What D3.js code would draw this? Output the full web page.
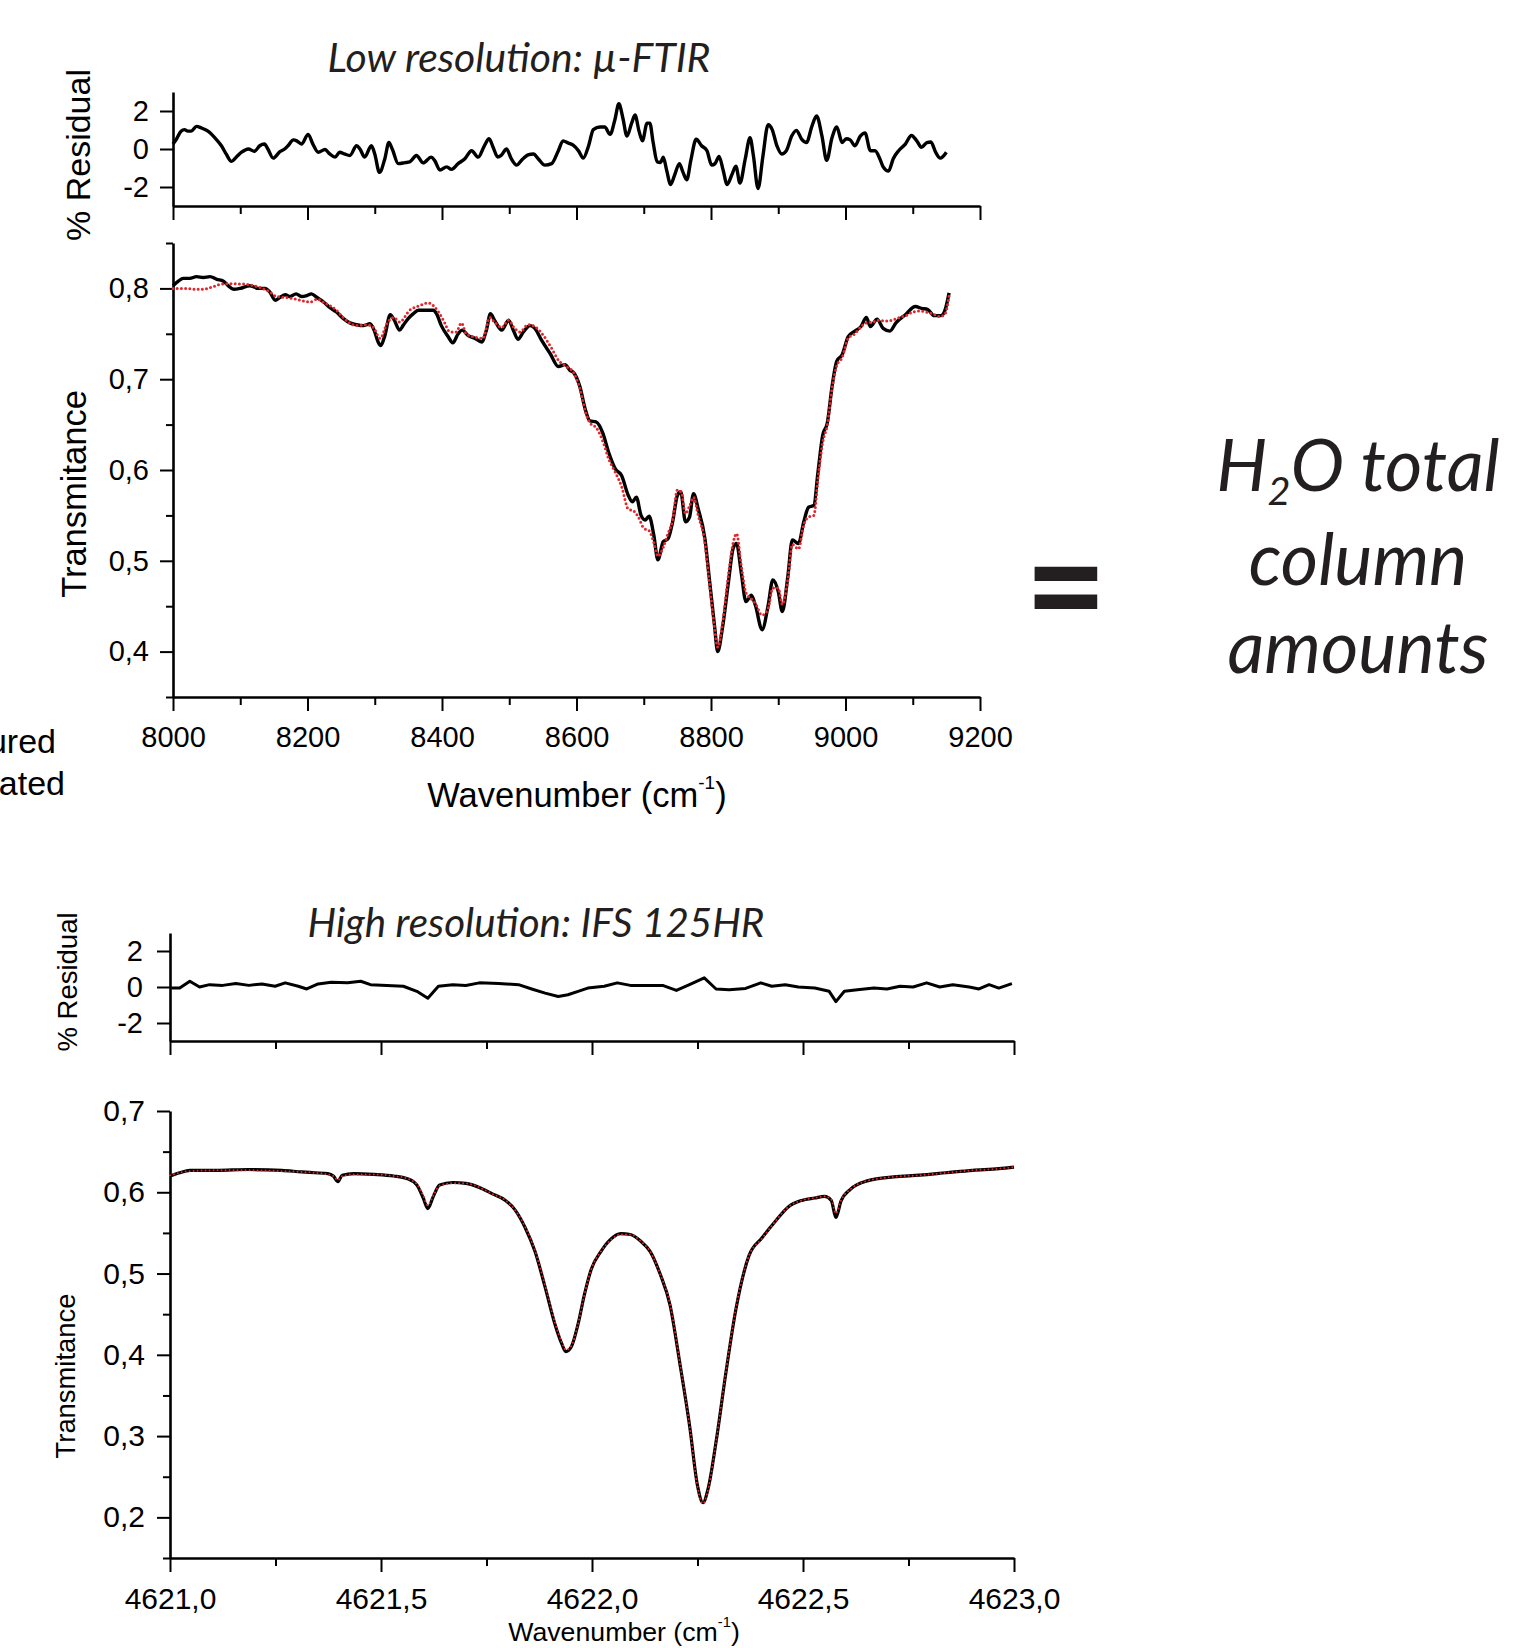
<!DOCTYPE html>
<html><head><meta charset="utf-8">
<script src="https://cdn.jsdelivr.net/npm/d3@7"></script>
<style>body{margin:0;background:#fff}svg{display:block}</style>
</head><body>
<svg id="c" width="1518" height="1648"></svg>
<script>
// ---------------- DATA ----------------
const titleLow = "Low resolution: µ-FTIR";
const titleHigh = "High resolution: IFS 125HR";
const legendLabels = ["Measured", "Calculated"];
const resultLines = ["total", "column", "amounts"];

const tickLowX = [8000, 8200, 8400, 8600, 8800, 9000, 9200];
const minorLowX = [8100, 8300, 8500, 8700, 8900, 9100];
const tickLowY = [0.4, 0.5, 0.6, 0.7, 0.8];
const minorLowY = [0.35, 0.45, 0.55, 0.65, 0.75, 0.85];
const tickRes = [-2, 0, 2];
const tickHighX = [4621.0, 4621.5, 4622.0, 4622.5, 4623.0];
const minorHighX = [4621.25, 4621.75, 4622.25, 4622.75];
const tickHighY = [0.2, 0.3, 0.4, 0.5, 0.6, 0.7];
const minorHighY = [0.15, 0.25, 0.35, 0.45, 0.55, 0.65];

// Low resolution residual (%): [wavenumber, value]
const residualLow = [[8000,0.26],[8005,0.51],[8012,0.94],[8017,1.02],[8022,0.94],[8027,0.94],[8035,1.19],[8042,1.11],[8052,0.94],[8062,0.60],
[8072,0.17],[8079,-0.26],[8087,-0.65],[8094,-0.43],[8102,-0.17],[8112,0.00],[8121,-0.12],[8129,0.17],[8136,0.26],[8141,0.00],
[8149,-0.48],[8159,-0.14],[8166,0.00],[8171,0.17],[8179,0.48],[8184,0.43],[8191,0.26],[8201,0.77],[8208,0.26],[8216,-0.17],
[8226,-0.03],[8233,-0.26],[8241,-0.43],[8248,-0.17],[8255,-0.26],[8263,-0.34],[8273,0.17],[8278,0.00],[8285,-0.43],[8295,0.17],
[8300,-0.26],[8307,-1.23],[8315,-0.51],[8321,0.34],[8326,0.00],[8335,-0.77],[8345,-0.72],[8352,-0.68],[8362,-0.34],[8372,-0.73],
[8384,-0.43],[8389,-0.60],[8397,-1.11],[8407,-0.94],[8414,-1.07],[8424,-0.77],[8434,-0.51],[8444,-0.09],[8454,-0.43],[8463,0.17],
[8470,0.54],[8476,0.09],[8483,-0.43],[8488,-0.34],[8496,0.00],[8503,-0.51],[8511,-0.85],[8518,-0.60],[8528,-0.31],[8536,-0.26],
[8543,-0.51],[8553,-0.85],[8563,-0.77],[8573,-0.09],[8580,0.43],[8588,0.31],[8595,0.20],[8603,-0.10],[8610,-0.48],[8618,0.17],
[8625,1.02],[8635,1.16],[8642,1.16],[8650,0.77],[8657,1.53],[8663,2.38],[8669,1.62],[8675,0.68],[8682,1.36],[8687,1.79],
[8693,0.94],[8698,0.43],[8705,1.36],[8709,1.36],[8714,0.34],[8720,-0.68],[8725,-0.71],[8729,-0.43],[8734,-1.11],[8740,-1.87],
[8746,-1.36],[8753,-0.77],[8758,-1.19],[8764,-1.62],[8770,-0.60],[8778,0.51],[8786,0.17],[8794,-0.09],[8801,-0.85],[8806,-0.77],
[8812,-0.39],[8818,-1.11],[8824,-1.87],[8831,-1.36],[8837,-0.90],[8843,-1.79],[8851,-0.51],[8858,0.60],[8863,-0.34],[8870,-2.08],
[8877,-0.43],[8885,1.28],[8891,1.02],[8898,0.17],[8905,-0.26],[8912,-0.09],[8920,0.68],[8927,0.98],[8935,0.51],[8942,0.34],
[8950,1.19],[8957,1.74],[8965,0.68],[8972,-0.60],[8980,0.60],[8987,1.16],[8995,0.34],[9001,0.54],[9007,0.48],[9014,0.17],
[9022,0.68],[9029,0.85],[9037,-0.09],[9044,-0.09],[9051,-0.51],[9056,-0.94],[9064,-1.16],[9071,-0.51],[9079,-0.09],[9089,0.26],
[9098,0.71],[9106,0.43],[9113,0.09],[9121,0.34],[9127,0.37],[9134,-0.17],[9141,-0.48],[9150,-0.17]];

// Low resolution transmittance, measured (black)
const measuredLow = [[8000,0.803],[8008,0.808],[8015,0.811],[8025,0.811],[8035,0.813],[8045,0.812],[8055,0.813],[8065,0.810],[8075,0.808],[8082,0.803],
[8090,0.799],[8100,0.800],[8114,0.803],[8127,0.800],[8137,0.800],[8144,0.796],[8152,0.787],[8159,0.790],[8167,0.793],[8174,0.791],
[8183,0.794],[8191,0.791],[8199,0.792],[8206,0.794],[8214,0.790],[8224,0.785],[8233,0.779],[8243,0.774],[8253,0.767],[8263,0.762],
[8273,0.760],[8283,0.759],[8293,0.761],[8299,0.754],[8305,0.741],[8309,0.737],[8315,0.748],[8323,0.771],[8329,0.765],[8337,0.754],
[8342,0.759],[8350,0.767],[8357,0.772],[8365,0.776],[8377,0.776],[8387,0.776],[8392,0.772],[8399,0.759],[8409,0.747],[8416,0.740],
[8424,0.750],[8430,0.754],[8439,0.748],[8449,0.745],[8459,0.741],[8466,0.754],[8472,0.772],[8478,0.765],[8489,0.754],[8499,0.765],
[8506,0.754],[8513,0.744],[8521,0.752],[8531,0.759],[8538,0.756],[8548,0.743],[8561,0.728],[8573,0.714],[8583,0.716],[8590,0.710],
[8596,0.707],[8605,0.692],[8613,0.667],[8620,0.654],[8629,0.653],[8639,0.641],[8648,0.619],[8658,0.601],[8667,0.594],[8677,0.572],
[8683,0.565],[8689,0.570],[8696,0.550],[8702,0.545],[8708,0.549],[8715,0.528],[8721,0.501],[8729,0.521],[8736,0.524],[8743,0.543],
[8750,0.572],[8755,0.576],[8762,0.543],[8768,0.548],[8774,0.574],[8781,0.557],[8791,0.524],[8797,0.484],[8805,0.430],[8810,0.400],
[8817,0.426],[8826,0.477],[8833,0.514],[8838,0.519],[8845,0.487],[8852,0.455],[8860,0.462],[8866,0.451],[8876,0.424],[8885,0.451],
[8892,0.479],[8900,0.466],[8906,0.444],[8914,0.481],[8921,0.523],[8930,0.519],[8938,0.543],[8945,0.559],[8953,0.561],[8959,0.597],
[8966,0.638],[8973,0.652],[8980,0.692],[8987,0.720],[8995,0.727],[9004,0.747],[9014,0.753],[9023,0.758],[9031,0.768],[9037,0.758],
[9047,0.766],[9056,0.756],[9066,0.753],[9075,0.762],[9089,0.771],[9104,0.780],[9113,0.778],[9122,0.777],[9132,0.770],[9142,0.770],
[9148,0.776],[9154,0.795]];

// Low resolution transmittance, calculated (red)
const calculatedLow = [[8000,0.800],[8020,0.800],[8035,0.799],[8045,0.799],[8060,0.802],[8075,0.805],[8095,0.805],[8114,0.804],[8129,0.801],[8144,0.796],
[8154,0.791],[8169,0.790],[8184,0.788],[8204,0.785],[8214,0.788],[8228,0.783],[8243,0.776],[8253,0.768],[8273,0.759],[8288,0.760],
[8298,0.757],[8308,0.745],[8318,0.761],[8328,0.768],[8337,0.763],[8352,0.776],[8367,0.781],[8380,0.784],[8392,0.777],[8402,0.765],
[8412,0.752],[8421,0.752],[8429,0.762],[8436,0.750],[8451,0.746],[8461,0.745],[8471,0.768],[8478,0.763],[8489,0.757],[8499,0.765],
[8508,0.756],[8516,0.752],[8528,0.760],[8538,0.758],[8551,0.748],[8563,0.734],[8573,0.721],[8585,0.714],[8595,0.708],[8605,0.690],
[8613,0.665],[8620,0.652],[8630,0.646],[8640,0.630],[8648,0.612],[8658,0.597],[8667,0.582],[8677,0.557],[8685,0.555],[8692,0.548],
[8700,0.536],[8708,0.533],[8715,0.520],[8721,0.505],[8729,0.515],[8736,0.530],[8743,0.545],[8750,0.578],[8756,0.575],[8762,0.552],
[8768,0.560],[8774,0.570],[8781,0.550],[8791,0.520],[8797,0.480],[8805,0.428],[8810,0.405],[8817,0.430],[8826,0.485],[8833,0.520],
[8838,0.530],[8845,0.495],[8852,0.465],[8860,0.458],[8866,0.453],[8876,0.440],[8885,0.448],[8892,0.470],[8900,0.470],[8906,0.452],
[8914,0.478],[8921,0.518],[8930,0.513],[8938,0.540],[8945,0.548],[8953,0.550],[8959,0.590],[8966,0.630],[8973,0.650],[8980,0.690],
[8987,0.715],[8995,0.724],[9004,0.745],[9014,0.750],[9023,0.758],[9031,0.762],[9040,0.763],[9050,0.765],[9060,0.764],[9070,0.765],
[9080,0.768],[9090,0.770],[9100,0.774],[9110,0.775],[9120,0.774],[9130,0.772],[9140,0.769],[9148,0.772],[9154,0.792]];

// High resolution residual (%)
const residualHigh = [[4621.003,-0.06],[4621.023,-0.06],[4621.047,0.32],[4621.070,0.00],[4621.094,0.13],[4621.125,0.09],[4621.156,0.19],[4621.187,0.09],
[4621.218,0.17],[4621.249,0.04],[4621.273,0.23],[4621.304,0.04],[4621.324,-0.11],[4621.351,0.17],[4621.382,0.26],[4621.421,0.23],
[4621.452,0.32],[4621.475,0.13],[4621.514,0.09],[4621.553,0.04],[4621.585,-0.24],[4621.611,-0.62],[4621.636,0.04],[4621.670,0.13],
[4621.701,0.08],[4621.733,0.23],[4621.779,0.19],[4621.826,0.13],[4621.857,-0.11],[4621.889,-0.34],[4621.920,-0.53],[4621.943,-0.43],
[4621.967,-0.24],[4621.990,-0.06],[4622.029,0.04],[4622.060,0.23],[4622.091,0.09],[4622.138,0.09],[4622.169,0.08],[4622.200,-0.19],
[4622.231,0.13],[4622.266,0.51],[4622.294,-0.11],[4622.325,-0.15],[4622.364,-0.08],[4622.400,0.23],[4622.426,0.04],[4622.458,0.13],
[4622.489,0.00],[4622.528,-0.06],[4622.562,-0.24],[4622.578,-0.81],[4622.598,-0.24],[4622.629,-0.15],[4622.668,-0.06],[4622.699,-0.11],
[4622.730,0.04],[4622.761,0.00],[4622.793,0.23],[4622.824,0.00],[4622.855,0.13],[4622.894,0.00],[4622.917,-0.11],[4622.941,0.13],
[4622.964,-0.06],[4622.995,0.19]];

// High resolution transmittance, measured (black)
const measuredHigh = [[4621.000,0.620],[4621.023,0.624],[4621.047,0.627],[4621.109,0.627],[4621.187,0.628],[4621.265,0.627],[4621.312,0.625],[4621.343,0.624],
[4621.374,0.623],[4621.387,0.620],[4621.398,0.613],[4621.408,0.621],[4621.436,0.623],[4621.483,0.622],[4621.530,0.620],[4621.561,0.617],
[4621.585,0.609],[4621.600,0.593],[4621.611,0.580],[4621.624,0.595],[4621.639,0.609],[4621.670,0.612],[4621.701,0.611],[4621.733,0.606],
[4621.764,0.598],[4621.795,0.590],[4621.818,0.578],[4621.842,0.556],[4621.865,0.527],[4621.889,0.483],[4621.912,0.438],[4621.928,0.414],
[4621.938,0.404],[4621.951,0.410],[4621.967,0.438],[4621.982,0.474],[4621.998,0.505],[4622.021,0.527],[4622.044,0.542],[4622.068,0.549],
[4622.091,0.548],[4622.115,0.540],[4622.138,0.527],[4622.161,0.500],[4622.185,0.461],[4622.208,0.390],[4622.232,0.310],[4622.250,0.239],
[4622.263,0.218],[4622.275,0.235],[4622.294,0.293],[4622.317,0.377],[4622.341,0.456],[4622.372,0.522],[4622.403,0.544],[4622.434,0.564],
[4622.465,0.582],[4622.497,0.590],[4622.528,0.593],[4622.551,0.595],[4622.567,0.590],[4622.578,0.569],[4622.590,0.589],[4622.613,0.604],
[4622.652,0.614],[4622.715,0.619],[4622.777,0.621],[4622.839,0.624],[4622.902,0.627],[4622.964,0.629],[4623.000,0.631]];

// High resolution transmittance, calculated (red)
const calculatedHigh = [[4621.000,0.621],[4621.047,0.626],[4621.109,0.627],[4621.187,0.627],[4621.265,0.626],[4621.312,0.625],[4621.343,0.624],[4621.374,0.622],
[4621.387,0.620],[4621.398,0.615],[4621.408,0.620],[4621.436,0.622],[4621.483,0.622],[4621.530,0.620],[4621.561,0.617],[4621.585,0.610],
[4621.600,0.596],[4621.611,0.584],[4621.624,0.596],[4621.639,0.608],[4621.670,0.611],[4621.701,0.611],[4621.733,0.606],[4621.764,0.598],
[4621.795,0.590],[4621.818,0.578],[4621.842,0.557],[4621.865,0.528],[4621.889,0.485],[4621.912,0.440],[4621.928,0.416],[4621.938,0.406],
[4621.951,0.411],[4621.967,0.438],[4621.982,0.474],[4621.998,0.505],[4622.021,0.527],[4622.044,0.541],[4622.068,0.548],[4622.091,0.548],
[4622.115,0.540],[4622.138,0.527],[4622.161,0.500],[4622.185,0.462],[4622.208,0.391],[4622.232,0.310],[4622.250,0.238],[4622.263,0.217],
[4622.275,0.234],[4622.294,0.293],[4622.317,0.378],[4622.341,0.457],[4622.372,0.522],[4622.403,0.543],[4622.434,0.564],[4622.465,0.582],
[4622.497,0.590],[4622.528,0.593],[4622.551,0.595],[4622.567,0.591],[4622.578,0.574],[4622.590,0.590],[4622.613,0.604],[4622.652,0.614],
[4622.715,0.619],[4622.777,0.621],[4622.839,0.624],[4622.902,0.627],[4622.964,0.629],[4623.000,0.631]];

// ---------------- DRAWING ----------------
const svg = d3.select("#c");
const AX_FONT = "'Liberation Sans', Arial, sans-serif";
const IT_FONT = "Lato, 'Open Sans', sans-serif";
const loc = d3.formatLocale({decimal: ",", thousands: ".", grouping: [3], currency: ["", ""], minus: "-"});

const xLow = d3.scaleLinear([8000, 9200], [173, 980]);
const yResLow = d3.scaleLinear([-3, 3], [206, 92]);
const yTrLow = d3.scaleLinear([0.35, 0.85], [697, 243]);

const xHigh = d3.scaleLinear([4621, 4623], [170, 1014]);
const yResHigh = d3.scaleLinear([-3, 3], [1041, 933]);
const yTrHigh = d3.scaleLinear([0.15, 0.7], [1558, 1111]);

function styleAxis(g, fs) {
  g.select(".domain").attr("stroke", "#000").attr("stroke-width", 2.6);
  g.selectAll(".tick line").attr("stroke", "#000").attr("stroke-width", 2);
  g.selectAll(".tick text").attr("fill", "#000").attr("font-family", AX_FONT).attr("font-size", fs);
  g.attr("font-size", null).attr("font-family", null);
}

function xAxis(scale, y, major, minor, fmt, fs, pad) {
  const g1 = svg.append("g").attr("transform", `translate(0,${y})`)
    .call(d3.axisBottom(scale).tickValues(major).tickSize(14).tickSizeOuter(0).tickPadding(pad)
      .tickFormat(fmt || (() => "")));
  styleAxis(g1, fs);
  const g2 = svg.append("g").attr("transform", `translate(0,${y})`)
    .call(d3.axisBottom(scale).tickValues(minor).tickSize(8).tickSizeOuter(0).tickFormat(() => ""));
  styleAxis(g2, fs);
  g2.select(".domain").remove();
}

function yAxis(scale, x, major, minor, fmt, fs, pad) {
  const g1 = svg.append("g").attr("transform", `translate(${x},0)`)
    .call(d3.axisLeft(scale).tickValues(major).tickSize(13).tickSizeOuter(0).tickPadding(pad).tickFormat(fmt));
  styleAxis(g1, fs);
  if (minor) {
    const g2 = svg.append("g").attr("transform", `translate(${x},0)`)
      .call(d3.axisLeft(scale).tickValues(minor).tickSize(7).tickSizeOuter(0).tickFormat(() => ""));
    styleAxis(g2, fs);
    g2.select(".domain").remove();
  }
}

const fmtInt = loc.format("d");
const fmtDec = loc.format(".1f");

// ---- Low-resolution panels ----
xAxis(xLow, 206, tickLowX, minorLowX, null, 29, 0);
yAxis(yResLow, 173, tickRes, null, fmtInt, 29, 11);
xAxis(xLow, 697, tickLowX, minorLowX, d3.format("d"), 29, 15);
yAxis(yTrLow, 173, tickLowY, minorLowY, fmtDec, 29, 11);

const smooth = (xs, ys) => d3.line().x(d => xs(d[0])).y(d => ys(d[1])).curve(d3.curveMonotoneX);
const straight = (xs, ys) => d3.line().x(d => xs(d[0])).y(d => ys(d[1]));

svg.append("path").datum(residualLow).attr("d", smooth(xLow, yResLow))
  .attr("fill", "none").attr("stroke", "#000").attr("stroke-width", 3.4).attr("stroke-linejoin", "round");
svg.append("path").datum(measuredLow).attr("d", smooth(xLow, yTrLow))
  .attr("fill", "none").attr("stroke", "#000").attr("stroke-width", 3.4).attr("stroke-linejoin", "round");
svg.append("path").datum(calculatedLow).attr("d", smooth(xLow, yTrLow))
  .attr("fill", "none").attr("stroke", "#e3262b").attr("stroke-width", 3)
  .attr("stroke-linecap", "round").attr("stroke-dasharray", "0 4.2");

// ---- High-resolution panels ----
xAxis(xHigh, 1041, tickHighX, minorHighX, null, 30, 0);
yAxis(yResHigh, 170, tickRes, null, fmtInt, 29, 14);
xAxis(xHigh, 1558, tickHighX, minorHighX, fmtDec, 30, 16);
yAxis(yTrHigh, 170, tickHighY, minorHighY, fmtDec, 30, 12);

svg.append("path").datum(residualHigh).attr("d", straight(xHigh, yResHigh))
  .attr("fill", "none").attr("stroke", "#000").attr("stroke-width", 3).attr("stroke-linejoin", "round");
svg.append("path").datum(measuredHigh).attr("d", smooth(xHigh, yTrHigh))
  .attr("fill", "none").attr("stroke", "#000").attr("stroke-width", 3.2).attr("stroke-linejoin", "round");
svg.append("path").datum(calculatedHigh).attr("d", smooth(xHigh, yTrHigh))
  .attr("fill", "none").attr("stroke", "#e3262b").attr("stroke-width", 2)
  .attr("stroke-linecap", "round").attr("stroke-dasharray", "0 4");

// ---- Axis titles ----
function rotLabel(text, x, cy, fs) {
  svg.append("text").attr("transform", `translate(${x},${cy}) rotate(-90)`)
    .attr("text-anchor", "middle").attr("font-family", AX_FONT).attr("font-size", fs)
    .attr("fill", "#000").text(text);
}
rotLabel("% Residual", 90, 155, 34);
rotLabel("Transmitance", 86, 494, 34.5);
rotLabel("% Residual", 77, 982, 27.5);
rotLabel("Transmitance", 75, 1376, 27.4);

function wnLabel(cx, baseline, fs) {
  const t = svg.append("text").attr("x", cx).attr("y", baseline).attr("text-anchor", "middle")
    .attr("font-family", AX_FONT).attr("font-size", fs).attr("fill", "#000");
  t.append("tspan").text("Wavenumber (cm");
  t.append("tspan").attr("font-size", "0.55em").attr("dy", "-0.95em").text("-1");
  t.append("tspan").attr("dy", "0.52em").text(")");
}
wnLabel(577, 807, 34.5);
wnLabel(624, 1641, 26.7);

// ---- Cropped legend text (cut at the left edge, as in the original figure) ----
svg.append("text").attr("x", 56).attr("y", 753).attr("text-anchor", "end")
  .attr("font-family", AX_FONT).attr("font-size", 34).attr("fill", "#000").text(legendLabels[0]);
svg.append("text").attr("x", 65).attr("y", 795).attr("text-anchor", "end")
  .attr("font-family", AX_FONT).attr("font-size", 34).attr("fill", "#000").text(legendLabels[1]);

// ---- Italic titles ----
function fitText(sel, w) {
  const l = sel.node().getComputedTextLength();
  const fs = parseFloat(sel.attr("font-size"));
  sel.attr("font-size", fs * w / l);
}
const t1 = svg.append("text").attr("x", 519).attr("y", 72).attr("text-anchor", "middle")
  .attr("font-family", IT_FONT).attr("font-style", "italic").attr("font-size", 40).attr("fill", "#231f20").text(titleLow);
fitText(t1, 383);
const t2 = svg.append("text").attr("x", 536).attr("y", 937).attr("text-anchor", "middle")
  .attr("font-family", IT_FONT).attr("font-style", "italic").attr("font-size", 40).attr("fill", "#231f20").text(titleHigh);
fitText(t2, 457);

// ---- Equals sign ----
svg.append("text").attr("transform", "translate(1066,627) scale(1,1.25)").attr("text-anchor", "middle")
  .attr("font-family", "'DejaVu Sans', sans-serif").attr("font-weight", "bold").attr("font-size", 100)
  .attr("fill", "#231f20").text("=");

// ---- H2O total column amounts ----
const r3 = svg.append("text").attr("x", 1358).attr("y", 673).attr("text-anchor", "middle")
  .attr("font-family", IT_FONT).attr("font-style", "italic").attr("font-size", 66).attr("fill", "#231f20").text(resultLines[2]);
fitText(r3, 261);
const rfs = r3.attr("font-size");
svg.append("text").attr("x", 1358).attr("y", 585).attr("text-anchor", "middle")
  .attr("font-family", IT_FONT).attr("font-style", "italic").attr("font-size", rfs).attr("fill", "#231f20").text(resultLines[1]);
const r1 = svg.append("text").attr("x", 1358).attr("y", 491).attr("text-anchor", "middle")
  .attr("font-family", IT_FONT).attr("font-style", "italic").attr("font-size", rfs).attr("fill", "#231f20");
r1.append("tspan").text("H");
r1.append("tspan").attr("font-size", "0.55em").attr("dy", "0.35em").text("2");
r1.append("tspan").attr("dy", "-0.19em").text("O " + resultLines[0]);
</script>
</body></html>
